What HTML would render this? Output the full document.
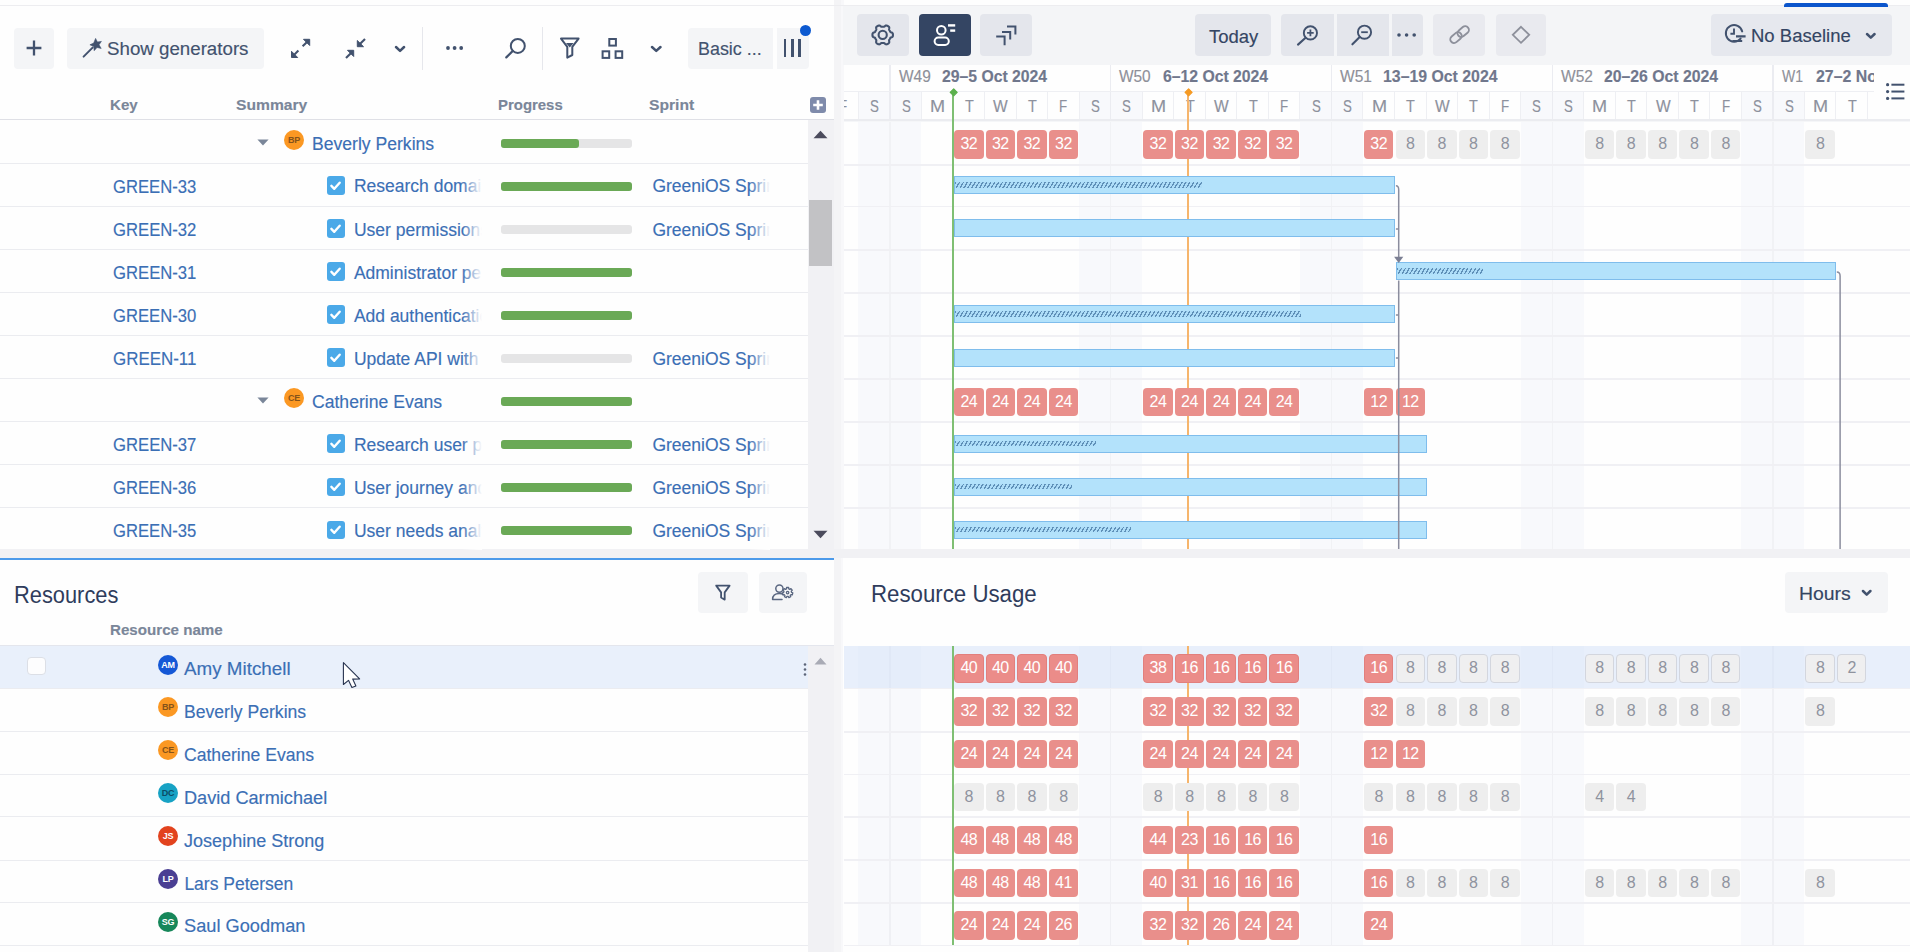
<!DOCTYPE html>
<html lang="en"><head><meta charset="utf-8"><title>Structure Gantt - Resources</title>
<style>
html,body{margin:0;padding:0;background:#fefefe;}
#root{position:absolute;left:0;top:0;width:1910px;height:952px;overflow:hidden;}
body{width:1910px;height:952px;position:relative;overflow:hidden;background:#fefefe;font-family:"Liberation Sans",Arial,sans-serif;}
.b{position:absolute;display:block;box-sizing:border-box;}
.t{position:absolute;white-space:nowrap;transform-origin:0 50%;-webkit-text-stroke:0.15px currentColor;}
.clip{position:absolute;overflow:hidden;}
.cell{position:absolute;box-sizing:border-box;border-radius:4px;text-align:center;font-size:16px;line-height:28.4px;height:28.5px;width:29.6px;letter-spacing:-0.5px;}
.r{background:#e98f8b;color:#fff;}
.g{background:#eeeeee;color:#8f939e;}
.rb{background:#eb8c89;color:#fff;border:1px solid #e27f7d;line-height:26.4px;}
.gb{background:#efeff0;color:#8f939e;border:1px solid #d3d6de;line-height:26.4px;}
.av{position:absolute;width:20px;height:20px;border-radius:50%;text-align:center;font-size:9px;line-height:20px;font-weight:700;letter-spacing:-0.3px;}
</style></head><body><div id="root">

<div class="b" style="left:834.2px;top:0.0px;width:9.4px;height:952.0px;background:#f4f4f6;"></div>
<div class="b" style="left:841.3px;top:0.0px;width:2.3px;height:952.0px;background:#f8f8fa;"></div>
<div class="b" style="left:842.8px;top:5.5px;width:1067.2px;height:59.0px;background:#f4f5f7;"></div>
<div class="b" style="left:0.0px;top:5.0px;width:1910.0px;height:1.0px;background:#ededf0;"></div>
<div class="b" style="left:0.0px;top:549.2px;width:1910.0px;height:9.0px;background:#f1f1f4;"></div>
<div class="b" style="left:0.0px;top:558.0px;width:834.2px;height:2.0px;background:#4c9aea;"></div>
<div class="b" style="left:1784.3px;top:2.5px;width:104.0px;height:4.5px;background:#0b55cc;border-radius:3px 3px 0 0;"></div>
<div class="b" style="left:14.0px;top:27.8px;width:40.3px;height:41.0px;background:#f4f5f7;border-radius:4px;"></div>
<svg class="b" style="left:24.0px;top:38.0px;" width="20" height="20" viewBox="0 0 20 20"><path d="M10 2.6v14.8M2.6 10h14.8" stroke="#42526e" stroke-width="2.3" fill="none"/></svg>
<div class="b" style="left:66.7px;top:27.8px;width:197.5px;height:41.0px;background:#f4f5f7;border-radius:4px;"></div>
<svg class="b" style="left:81.0px;top:36.0px;" width="24" height="24" viewBox="0 0 24 24"><path d="M2.6 20.6L11.6 11.6" stroke="#42526e" stroke-width="2" stroke-linecap="round" fill="none"/><path d="M14.6 2.4l1.8 3.6 4-.6-2.4 3.4 2.2 3.6-4.2-.9-2.8 3.2-.5-4.2-3.8-1.7 3.8-1.7z" fill="#42526e" stroke="#42526e" stroke-width="0.6" stroke-linejoin="round"/></svg>
<div class="t " style="left:107.0px;top:41.2px;font-size:17.5px;line-height:17.5px;color:#42526e;font-weight:400;transform:scaleX(1.0693);">Show generators</div>
<svg class="b" style="left:290.0px;top:37.5px;" width="21" height="21" viewBox="0 0 21 21"><path d="M12.6 8.2L17.55 3.39" stroke="#42526e" stroke-width="2.1" fill="none"/><path d="M19.7 1.3L13.5 1.3L19.7 7.5z" fill="#42526e" stroke="#42526e" stroke-width="1" stroke-linejoin="round"/><path d="M8.4 12.6L3.62 17.38" stroke="#42526e" stroke-width="2.1" fill="none"/><path d="M1.5 19.5L7.7 19.5L1.5 13.3z" fill="#42526e" stroke="#42526e" stroke-width="1" stroke-linejoin="round"/></svg>
<svg class="b" style="left:345.0px;top:37.5px;" width="21" height="21" viewBox="0 0 21 21"><path d="M20 1L14.42 6.58" stroke="#42526e" stroke-width="2.1" fill="none"/><path d="M12.3 8.7L18.5 8.7L12.3 2.499999999999999z" fill="#42526e" stroke="#42526e" stroke-width="1" stroke-linejoin="round"/><path d="M1 20L6.58 14.42" stroke="#42526e" stroke-width="2.1" fill="none"/><path d="M8.7 12.3L2.499999999999999 12.3L8.7 18.5z" fill="#42526e" stroke="#42526e" stroke-width="1" stroke-linejoin="round"/></svg>
<svg class="b" style="left:394.2px;top:45.0px;" width="12.1" height="8.9" viewBox="0 0 12.1 8.9"><path d="M2 2l4.05 3.9000000000000004l4.05 -3.9000000000000004" stroke="#42526e" stroke-width="2.5" fill="none" stroke-linecap="round" stroke-linejoin="round"/></svg>
<div class="b" style="left:422.0px;top:27.0px;width:1.2px;height:42.5px;background:#e6e7ec;"></div>
<svg class="b" style="left:445.1px;top:45.1px;" width="19.2" height="6" viewBox="0 0 19.2 6"><circle cx="3.0" cy="3" r="1.9" fill="#42526e"/><circle cx="9.6" cy="3" r="1.9" fill="#42526e"/><circle cx="16.2" cy="3" r="1.9" fill="#42526e"/></svg>
<svg class="b" style="left:503.0px;top:35.0px;" width="26" height="26" viewBox="0 0 26 26"><circle cx="14.8" cy="10.9" r="7" stroke="#42526e" stroke-width="2" fill="none"/><path d="M9.8 15.9L3.3 22.4" stroke="#42526e" stroke-width="2.2" stroke-linecap="round"/></svg>
<div class="b" style="left:542.0px;top:27.0px;width:1.2px;height:42.5px;background:#e6e7ec;"></div>
<svg class="b" style="left:559.0px;top:36.0px;" width="22" height="24" viewBox="0 0 22 24"><path d="M2 2.6h17.6l-6.3 8.2v8.2l-5 2.6v-10.8z" stroke="#42526e" stroke-width="2" fill="none" stroke-linejoin="round"/><path d="M7 7h7.6l-3.8 4.6z" fill="#42526e"/></svg>
<svg class="b" style="left:600.0px;top:36.0px;" width="24" height="24" viewBox="0 0 24 24"><rect x="9.3" y="3" width="6.6" height="6.6" stroke="#42526e" stroke-width="2" fill="none"/><rect x="2.6" y="15.3" width="6.6" height="6.6" stroke="#42526e" stroke-width="2" fill="none"/><rect x="15.6" y="15.3" width="6.6" height="6.6" stroke="#42526e" stroke-width="2" fill="none"/></svg>
<svg class="b" style="left:649.9px;top:45.0px;" width="12.5" height="8.9" viewBox="0 0 12.5 8.9"><path d="M2 2l4.25 3.9000000000000004l4.25 -3.9000000000000004" stroke="#42526e" stroke-width="2.5" fill="none" stroke-linecap="round" stroke-linejoin="round"/></svg>
<div class="b" style="left:688.4px;top:27.8px;width:84.8px;height:41.0px;background:#f4f5f7;border-radius:4px 0 0 4px;"></div>
<div class="t " style="left:697.9px;top:41.4px;font-size:17.5px;line-height:17.5px;color:#42526e;font-weight:400;transform:scaleX(1.0222);">Basic ...</div>
<div class="b" style="left:777.2px;top:27.8px;width:31.4px;height:41.0px;background:#f4f5f7;border-radius:0 4px 4px 0;"></div>
<div class="b" style="left:783.7px;top:39.0px;width:2.6px;height:17.8px;background:#42526e;"></div>
<div class="b" style="left:791.0px;top:39.0px;width:2.6px;height:17.8px;background:#42526e;"></div>
<div class="b" style="left:798.0px;top:39.0px;width:2.6px;height:17.8px;background:#42526e;"></div>
<div class="b" style="left:800.0px;top:24.5px;width:11.0px;height:11.0px;background:#0c59d0;border-radius:50%;"></div>
<div class="t " style="left:109.7px;top:97.2px;font-size:15.4px;line-height:15.4px;color:#7a8699;font-weight:700;transform:scaleX(0.9802);">Key</div>
<div class="t " style="left:235.8px;top:97.2px;font-size:15.4px;line-height:15.4px;color:#7a8699;font-weight:700;transform:scaleX(1.0160);">Summary</div>
<div class="t " style="left:498.3px;top:97.2px;font-size:15.4px;line-height:15.4px;color:#7a8699;font-weight:700;transform:scaleX(0.9700);">Progress</div>
<div class="t " style="left:649.3px;top:97.2px;font-size:15.4px;line-height:15.4px;color:#7a8699;font-weight:700;transform:scaleX(1.0162);">Sprint</div>
<div class="b" style="left:809.8px;top:97.4px;width:16.0px;height:16.0px;background:#7f8bab;border-radius:3px;"></div>
<svg class="b" style="left:809.8px;top:97.4px;" width="16" height="16" viewBox="0 0 16 16"><path d="M8 3.2v9.6M3.2 8h9.6" stroke="#fff" stroke-width="2.6"/></svg>
<div class="b" style="left:0.0px;top:118.8px;width:834.3px;height:1.6px;background:#dfe0e6;"></div>
<div class="b" style="left:807.5px;top:120.4px;width:26.8px;height:428.8px;background:#f1f1f4;"></div>
<div class="b" style="left:809.2px;top:199.8px;width:23.0px;height:66.0px;background:#c2c2c5;"></div>
<svg class="b" style="left:813.0px;top:130.0px;" width="15" height="9" viewBox="0 0 15 9"><path d="M0.5 8.2L7.5 0.8L14.5 8.2z" fill="#4b4b5c"/></svg>
<svg class="b" style="left:813.0px;top:530.0px;" width="15" height="9" viewBox="0 0 15 9"><path d="M0.5 0.8L7.5 8.2L14.5 0.8z" fill="#4b4b5c"/></svg>
<svg class="b" style="left:256.5px;top:139.2px;" width="12" height="7" viewBox="0 0 12 7"><path d="M0.4 0.4h11.2L6 6.6z" fill="#7a8699"/></svg>
<div class="av" style="left:284.0px;top:129.6px;background:#fb9823;color:#85531a;">BP</div>
<div class="t " style="left:311.5px;top:135.5px;font-size:17.5px;line-height:17.5px;color:#3b6fb5;font-weight:400;transform:scaleX(1.0047);">Beverly Perkins</div>
<div class="b" style="left:501.3px;top:138.7px;width:130.4px;height:9.0px;background:#e5e5e6;border-radius:3px;"></div>
<div class="b" style="left:501.3px;top:138.7px;width:78.2px;height:9.0px;background:#6aa956;border-radius:3px;"></div>
<div class="b" style="left:0.0px;top:163.0px;width:807.5px;height:1.0px;background:#ebecf0;"></div>
<div class="t " style="left:112.8px;top:178.5px;font-size:17.5px;line-height:17.5px;color:#3b6fb5;font-weight:400;transform:scaleX(0.9516);">GREEN-33</div>
<div class="b" style="left:326.7px;top:176.2px;width:18.6px;height:18.6px;background:#4ba9e8;border-radius:3px;"></div>
<svg class="b" style="left:326.4px;top:175.9px;" width="19.2" height="19.2" viewBox="0 0 19.2 19.2"><path d="M5.4 9.9l2.9 2.9l5.4-6.1" stroke="#fff" stroke-width="2.4" fill="none" stroke-linecap="round" stroke-linejoin="round"/></svg>
<div class="clip" style="left:350px;top:164.9px;width:132px;height:41.03px;">
<div class="t" style="left:3.9px;top:13.6px;font-size:17.5px;line-height:17.5px;color:#3b6fb5;">Research domain names</div></div>
<div class="b" style="left:462.0px;top:164.9px;width:20.0px;height:41.0px;background:linear-gradient(to right, rgba(254,254,254,0), rgba(254,254,254,1));"></div>
<div class="clip" style="left:648px;top:164.9px;width:122px;height:41.03px;">
<div class="t" style="left:4.4px;top:13.6px;font-size:17.5px;line-height:17.5px;color:#3b6fb5;">GreeniOS Sprint 1</div></div>
<div class="b" style="left:750.0px;top:164.9px;width:20.0px;height:41.0px;background:linear-gradient(to right, rgba(254,254,254,0), rgba(254,254,254,1));"></div>
<div class="b" style="left:501.3px;top:181.7px;width:130.4px;height:9.0px;background:#e5e5e6;border-radius:3px;"></div>
<div class="b" style="left:501.3px;top:181.7px;width:130.4px;height:9.0px;background:#6aa956;border-radius:3px;"></div>
<div class="b" style="left:0.0px;top:206.0px;width:807.5px;height:1.0px;background:#ebecf0;"></div>
<div class="t " style="left:112.8px;top:221.6px;font-size:17.5px;line-height:17.5px;color:#3b6fb5;font-weight:400;transform:scaleX(0.9528);">GREEN-32</div>
<div class="b" style="left:326.7px;top:219.3px;width:18.6px;height:18.6px;background:#4ba9e8;border-radius:3px;"></div>
<svg class="b" style="left:326.4px;top:219.0px;" width="19.2" height="19.2" viewBox="0 0 19.2 19.2"><path d="M5.4 9.9l2.9 2.9l5.4-6.1" stroke="#fff" stroke-width="2.4" fill="none" stroke-linecap="round" stroke-linejoin="round"/></svg>
<div class="clip" style="left:350px;top:208.0px;width:132px;height:41.03px;">
<div class="t" style="left:3.9px;top:13.6px;font-size:17.5px;line-height:17.5px;color:#3b6fb5;">User permissions</div></div>
<div class="b" style="left:462.0px;top:208.0px;width:20.0px;height:41.0px;background:linear-gradient(to right, rgba(254,254,254,0), rgba(254,254,254,1));"></div>
<div class="clip" style="left:648px;top:208.0px;width:122px;height:41.03px;">
<div class="t" style="left:4.4px;top:13.6px;font-size:17.5px;line-height:17.5px;color:#3b6fb5;">GreeniOS Sprint 1</div></div>
<div class="b" style="left:750.0px;top:208.0px;width:20.0px;height:41.0px;background:linear-gradient(to right, rgba(254,254,254,0), rgba(254,254,254,1));"></div>
<div class="b" style="left:501.3px;top:224.8px;width:130.4px;height:9.0px;background:#e5e5e6;border-radius:3px;"></div>
<div class="b" style="left:0.0px;top:249.0px;width:807.5px;height:1.0px;background:#ebecf0;"></div>
<div class="t " style="left:112.8px;top:264.6px;font-size:17.5px;line-height:17.5px;color:#3b6fb5;font-weight:400;transform:scaleX(0.9528);">GREEN-31</div>
<div class="b" style="left:326.7px;top:262.3px;width:18.6px;height:18.6px;background:#4ba9e8;border-radius:3px;"></div>
<svg class="b" style="left:326.4px;top:262.0px;" width="19.2" height="19.2" viewBox="0 0 19.2 19.2"><path d="M5.4 9.9l2.9 2.9l5.4-6.1" stroke="#fff" stroke-width="2.4" fill="none" stroke-linecap="round" stroke-linejoin="round"/></svg>
<div class="clip" style="left:350px;top:251.0px;width:132px;height:41.03px;">
<div class="t" style="left:3.9px;top:13.6px;font-size:17.5px;line-height:17.5px;color:#3b6fb5;">Administrator permissions</div></div>
<div class="b" style="left:462.0px;top:251.0px;width:20.0px;height:41.0px;background:linear-gradient(to right, rgba(254,254,254,0), rgba(254,254,254,1));"></div>
<div class="b" style="left:501.3px;top:267.8px;width:130.4px;height:9.0px;background:#e5e5e6;border-radius:3px;"></div>
<div class="b" style="left:501.3px;top:267.8px;width:130.4px;height:9.0px;background:#6aa956;border-radius:3px;"></div>
<div class="b" style="left:0.0px;top:292.0px;width:807.5px;height:1.0px;background:#ebecf0;"></div>
<div class="t " style="left:112.8px;top:307.6px;font-size:17.5px;line-height:17.5px;color:#3b6fb5;font-weight:400;transform:scaleX(0.9503);">GREEN-30</div>
<div class="b" style="left:326.7px;top:305.3px;width:18.6px;height:18.6px;background:#4ba9e8;border-radius:3px;"></div>
<svg class="b" style="left:326.4px;top:305.0px;" width="19.2" height="19.2" viewBox="0 0 19.2 19.2"><path d="M5.4 9.9l2.9 2.9l5.4-6.1" stroke="#fff" stroke-width="2.4" fill="none" stroke-linecap="round" stroke-linejoin="round"/></svg>
<div class="clip" style="left:350px;top:294.0px;width:132px;height:41.03px;">
<div class="t" style="left:3.9px;top:13.6px;font-size:17.5px;line-height:17.5px;color:#3b6fb5;">Add authentication</div></div>
<div class="b" style="left:462.0px;top:294.0px;width:20.0px;height:41.0px;background:linear-gradient(to right, rgba(254,254,254,0), rgba(254,254,254,1));"></div>
<div class="b" style="left:501.3px;top:310.8px;width:130.4px;height:9.0px;background:#e5e5e6;border-radius:3px;"></div>
<div class="b" style="left:501.3px;top:310.8px;width:130.4px;height:9.0px;background:#6aa956;border-radius:3px;"></div>
<div class="b" style="left:0.0px;top:335.0px;width:807.5px;height:1.0px;background:#ebecf0;"></div>
<div class="t " style="left:112.8px;top:350.6px;font-size:17.5px;line-height:17.5px;color:#3b6fb5;font-weight:400;transform:scaleX(0.9676);">GREEN-11</div>
<div class="b" style="left:326.7px;top:348.4px;width:18.6px;height:18.6px;background:#4ba9e8;border-radius:3px;"></div>
<svg class="b" style="left:326.4px;top:348.1px;" width="19.2" height="19.2" viewBox="0 0 19.2 19.2"><path d="M5.4 9.9l2.9 2.9l5.4-6.1" stroke="#fff" stroke-width="2.4" fill="none" stroke-linecap="round" stroke-linejoin="round"/></svg>
<div class="clip" style="left:350px;top:337.1px;width:132px;height:41.03px;">
<div class="t" style="left:3.9px;top:13.6px;font-size:17.5px;line-height:17.5px;color:#3b6fb5;">Update API with new fields</div></div>
<div class="b" style="left:462.0px;top:337.1px;width:20.0px;height:41.0px;background:linear-gradient(to right, rgba(254,254,254,0), rgba(254,254,254,1));"></div>
<div class="clip" style="left:648px;top:337.1px;width:122px;height:41.03px;">
<div class="t" style="left:4.4px;top:13.6px;font-size:17.5px;line-height:17.5px;color:#3b6fb5;">GreeniOS Sprint 1</div></div>
<div class="b" style="left:750.0px;top:337.1px;width:20.0px;height:41.0px;background:linear-gradient(to right, rgba(254,254,254,0), rgba(254,254,254,1));"></div>
<div class="b" style="left:501.3px;top:353.9px;width:130.4px;height:9.0px;background:#e5e5e6;border-radius:3px;"></div>
<div class="b" style="left:0.0px;top:378.0px;width:807.5px;height:1.0px;background:#ebecf0;"></div>
<svg class="b" style="left:256.5px;top:397.4px;" width="12" height="7" viewBox="0 0 12 7"><path d="M0.4 0.4h11.2L6 6.6z" fill="#7a8699"/></svg>
<div class="av" style="left:284.0px;top:387.8px;background:#fb9823;color:#85531a;">CE</div>
<div class="t " style="left:312.0px;top:393.7px;font-size:17.5px;line-height:17.5px;color:#3b6fb5;font-weight:400;transform:scaleX(1.0050);">Catherine Evans</div>
<div class="b" style="left:501.3px;top:396.9px;width:130.4px;height:9.0px;background:#e5e5e6;border-radius:3px;"></div>
<div class="b" style="left:501.3px;top:396.9px;width:130.4px;height:9.0px;background:#6aa956;border-radius:3px;"></div>
<div class="b" style="left:0.0px;top:421.0px;width:807.5px;height:1.0px;background:#ebecf0;"></div>
<div class="t " style="left:112.8px;top:436.7px;font-size:17.5px;line-height:17.5px;color:#3b6fb5;font-weight:400;transform:scaleX(0.9528);">GREEN-37</div>
<div class="b" style="left:326.7px;top:434.4px;width:18.6px;height:18.6px;background:#4ba9e8;border-radius:3px;"></div>
<svg class="b" style="left:326.4px;top:434.1px;" width="19.2" height="19.2" viewBox="0 0 19.2 19.2"><path d="M5.4 9.9l2.9 2.9l5.4-6.1" stroke="#fff" stroke-width="2.4" fill="none" stroke-linecap="round" stroke-linejoin="round"/></svg>
<div class="clip" style="left:350px;top:423.1px;width:132px;height:41.03px;">
<div class="t" style="left:3.9px;top:13.6px;font-size:17.5px;line-height:17.5px;color:#3b6fb5;">Research user personas</div></div>
<div class="b" style="left:462.0px;top:423.1px;width:20.0px;height:41.0px;background:linear-gradient(to right, rgba(254,254,254,0), rgba(254,254,254,1));"></div>
<div class="clip" style="left:648px;top:423.1px;width:122px;height:41.03px;">
<div class="t" style="left:4.4px;top:13.6px;font-size:17.5px;line-height:17.5px;color:#3b6fb5;">GreeniOS Sprint 1</div></div>
<div class="b" style="left:750.0px;top:423.1px;width:20.0px;height:41.0px;background:linear-gradient(to right, rgba(254,254,254,0), rgba(254,254,254,1));"></div>
<div class="b" style="left:501.3px;top:439.9px;width:130.4px;height:9.0px;background:#e5e5e6;border-radius:3px;"></div>
<div class="b" style="left:501.3px;top:439.9px;width:130.4px;height:9.0px;background:#6aa956;border-radius:3px;"></div>
<div class="b" style="left:0.0px;top:464.0px;width:807.5px;height:1.0px;background:#ebecf0;"></div>
<div class="t " style="left:112.8px;top:479.7px;font-size:17.5px;line-height:17.5px;color:#3b6fb5;font-weight:400;transform:scaleX(0.9516);">GREEN-36</div>
<div class="b" style="left:326.7px;top:477.5px;width:18.6px;height:18.6px;background:#4ba9e8;border-radius:3px;"></div>
<svg class="b" style="left:326.4px;top:477.2px;" width="19.2" height="19.2" viewBox="0 0 19.2 19.2"><path d="M5.4 9.9l2.9 2.9l5.4-6.1" stroke="#fff" stroke-width="2.4" fill="none" stroke-linecap="round" stroke-linejoin="round"/></svg>
<div class="clip" style="left:350px;top:466.1px;width:132px;height:41.03px;">
<div class="t" style="left:3.9px;top:13.6px;font-size:17.5px;line-height:17.5px;color:#3b6fb5;">User journey and flows</div></div>
<div class="b" style="left:462.0px;top:466.1px;width:20.0px;height:41.0px;background:linear-gradient(to right, rgba(254,254,254,0), rgba(254,254,254,1));"></div>
<div class="clip" style="left:648px;top:466.1px;width:122px;height:41.03px;">
<div class="t" style="left:4.4px;top:13.6px;font-size:17.5px;line-height:17.5px;color:#3b6fb5;">GreeniOS Sprint 1</div></div>
<div class="b" style="left:750.0px;top:466.1px;width:20.0px;height:41.0px;background:linear-gradient(to right, rgba(254,254,254,0), rgba(254,254,254,1));"></div>
<div class="b" style="left:501.3px;top:483.0px;width:130.4px;height:9.0px;background:#e5e5e6;border-radius:3px;"></div>
<div class="b" style="left:501.3px;top:483.0px;width:130.4px;height:9.0px;background:#6aa956;border-radius:3px;"></div>
<div class="b" style="left:0.0px;top:507.0px;width:807.5px;height:1.0px;background:#ebecf0;"></div>
<div class="t " style="left:112.8px;top:522.8px;font-size:17.5px;line-height:17.5px;color:#3b6fb5;font-weight:400;transform:scaleX(0.9503);">GREEN-35</div>
<div class="b" style="left:326.7px;top:520.5px;width:18.6px;height:18.6px;background:#4ba9e8;border-radius:3px;"></div>
<svg class="b" style="left:326.4px;top:520.2px;" width="19.2" height="19.2" viewBox="0 0 19.2 19.2"><path d="M5.4 9.9l2.9 2.9l5.4-6.1" stroke="#fff" stroke-width="2.4" fill="none" stroke-linecap="round" stroke-linejoin="round"/></svg>
<div class="clip" style="left:350px;top:509.2px;width:132px;height:41.03px;">
<div class="t" style="left:3.9px;top:13.6px;font-size:17.5px;line-height:17.5px;color:#3b6fb5;">User needs analysis</div></div>
<div class="b" style="left:462.0px;top:509.2px;width:20.0px;height:41.0px;background:linear-gradient(to right, rgba(254,254,254,0), rgba(254,254,254,1));"></div>
<div class="clip" style="left:648px;top:509.2px;width:122px;height:41.03px;">
<div class="t" style="left:4.4px;top:13.6px;font-size:17.5px;line-height:17.5px;color:#3b6fb5;">GreeniOS Sprint 1</div></div>
<div class="b" style="left:750.0px;top:509.2px;width:20.0px;height:41.0px;background:linear-gradient(to right, rgba(254,254,254,0), rgba(254,254,254,1));"></div>
<div class="b" style="left:501.3px;top:526.0px;width:130.4px;height:9.0px;background:#e5e5e6;border-radius:3px;"></div>
<div class="b" style="left:501.3px;top:526.0px;width:130.4px;height:9.0px;background:#6aa956;border-radius:3px;"></div>
<div class="b" style="left:857.0px;top:14.2px;width:51.7px;height:41.5px;background:#e4e6ec;border-radius:4px;"></div>
<svg class="b" style="left:870.0px;top:22.0px;" width="26" height="26" viewBox="0 0 26 26"><path d="M12.70 4.75L13.06 4.75L13.41 4.76L13.77 4.75L14.15 4.69L14.57 4.46L15.08 4.01L15.63 3.60L16.14 3.45L16.60 3.49L17.02 3.63L17.43 3.81L17.82 4.02L18.21 4.26L18.57 4.52L18.90 4.82L19.17 5.19L19.29 5.71L19.21 6.39L19.07 7.06L19.09 7.54L19.22 7.90L19.39 8.21L19.58 8.52L19.76 8.82L19.93 9.13L20.10 9.45L20.29 9.76L20.54 10.05L20.95 10.30L21.59 10.52L22.22 10.79L22.61 11.15L22.80 11.57L22.89 12.01L22.94 12.45L22.95 12.90L22.94 13.35L22.89 13.79L22.80 14.23L22.61 14.65L22.22 15.01L21.59 15.28L20.95 15.50L20.54 15.75L20.29 16.04L20.10 16.35L19.93 16.67L19.76 16.97L19.58 17.28L19.39 17.59L19.22 17.90L19.09 18.26L19.07 18.74L19.21 19.41L19.29 20.09L19.17 20.61L18.90 20.98L18.57 21.28L18.21 21.54L17.83 21.78L17.43 21.99L17.02 22.17L16.60 22.31L16.14 22.35L15.63 22.20L15.08 21.79L14.57 21.34L14.15 21.11L13.77 21.05L13.41 21.04L13.06 21.05L12.70 21.05L12.34 21.05L11.99 21.04L11.63 21.05L11.25 21.11L10.83 21.34L10.32 21.79L9.77 22.20L9.26 22.35L8.80 22.31L8.38 22.17L7.97 21.99L7.57 21.78L7.19 21.54L6.83 21.28L6.50 20.98L6.23 20.61L6.11 20.09L6.19 19.41L6.33 18.74L6.31 18.26L6.18 17.90L6.01 17.59L5.82 17.28L5.64 16.98L5.47 16.67L5.30 16.35L5.11 16.04L4.86 15.75L4.45 15.50L3.81 15.28L3.18 15.01L2.79 14.65L2.60 14.23L2.51 13.79L2.46 13.35L2.45 12.90L2.46 12.45L2.51 12.01L2.60 11.57L2.79 11.15L3.18 10.79L3.81 10.52L4.45 10.30L4.86 10.05L5.11 9.76L5.30 9.45L5.47 9.13L5.64 8.83L5.82 8.52L6.01 8.21L6.18 7.90L6.31 7.54L6.33 7.06L6.19 6.39L6.11 5.71L6.23 5.19L6.50 4.82L6.83 4.52L7.19 4.26L7.58 4.02L7.97 3.81L8.38 3.63L8.80 3.49L9.26 3.45L9.77 3.60L10.32 4.01L10.83 4.46L11.25 4.69L11.63 4.75L11.99 4.76L12.34 4.75z" stroke="#42526e" stroke-width="2.1" fill="none" stroke-linejoin="round"/><circle cx="12.7" cy="12.9" r="4.1" stroke="#42526e" stroke-width="2.1" fill="none"/></svg>
<div class="b" style="left:918.6px;top:14.2px;width:52.4px;height:41.5px;background:#344563;border-radius:4px;"></div>
<svg class="b" style="left:930.0px;top:20.0px;" width="30" height="30" viewBox="0 0 30 30"><circle cx="11.3" cy="10.2" r="4.3" stroke="#fff" stroke-width="2" fill="none"/><rect x="4.6" y="17.6" width="14.2" height="7.4" rx="3.7" stroke="#fff" stroke-width="2" fill="none"/><rect x="18" y="4.2" width="7.2" height="2.4" fill="#fff"/><rect x="20.2" y="9.4" width="5" height="2.4" fill="#fff"/></svg>
<div class="b" style="left:980.4px;top:14.2px;width:52.0px;height:41.5px;background:#e4e6ec;border-radius:4px;"></div>
<svg class="b" style="left:992.0px;top:20.0px;" width="30" height="30" viewBox="0 0 30 30"><path d="M15 6.5h8.4v8" stroke="#42526e" stroke-width="2" fill="none"/><path d="M10 12h8.2v7.6" stroke="#42526e" stroke-width="2" fill="none"/><path d="M4.2 16.6h8.4v8.6" stroke="#42526e" stroke-width="2" fill="none"/></svg>
<div class="b" style="left:1195.2px;top:14.2px;width:76.3px;height:41.5px;background:#e4e6ec;border-radius:4px;"></div>
<div class="t " style="left:1209.0px;top:28.6px;font-size:17.5px;line-height:17.5px;color:#344563;font-weight:400;transform:scaleX(1.0566);">Today</div>
<div class="b" style="left:1281.4px;top:14.2px;width:52.6px;height:41.5px;background:#e4e6ec;border-radius:4px 0 0 4px;"></div>
<svg class="b" style="left:1294.0px;top:22.0px;" width="28" height="26" viewBox="0 0 28 26"><circle cx="16.4" cy="10.9" r="6.6" stroke="#42526e" stroke-width="1.9" fill="none"/><path d="M11.6 15.8L4 22.6" stroke="#42526e" stroke-width="2.1" stroke-linecap="round"/><path d="M16.4 7.6v6.6M13.1 10.9h6.6" stroke="#42526e" stroke-width="1.8"/></svg>
<div class="b" style="left:1336.6px;top:14.2px;width:52.6px;height:41.5px;background:#e4e6ec;"></div>
<svg class="b" style="left:1348.0px;top:22.0px;" width="28" height="26" viewBox="0 0 28 26"><circle cx="16.5" cy="10.2" r="6.6" stroke="#42526e" stroke-width="1.9" fill="none"/><path d="M11.7 15.1L4.4 22.3" stroke="#42526e" stroke-width="2.1" stroke-linecap="round"/><path d="M13.2 10.2h6.6" stroke="#42526e" stroke-width="1.8"/></svg>
<div class="b" style="left:1391.7px;top:14.2px;width:31.5px;height:41.5px;background:#e4e6ec;border-radius:0 4px 4px 0;"></div>
<svg class="b" style="left:1396.4px;top:31.7px;" width="21.2" height="6" viewBox="0 0 21.2 6"><circle cx="3.0" cy="3" r="1.8" fill="#42526e"/><circle cx="10.6" cy="3" r="1.8" fill="#42526e"/><circle cx="18.2" cy="3" r="1.8" fill="#42526e"/></svg>
<div class="b" style="left:1433.0px;top:14.2px;width:51.7px;height:41.5px;background:#e9eaef;border-radius:4px;"></div>
<svg class="b" style="left:1447.0px;top:22.0px;" width="26" height="26" viewBox="0 0 26 26"><g transform="rotate(-40 12.6 12.6)" stroke="#8d909b" stroke-width="1.9" fill="none"><rect x="1.6" y="8.9" width="12.6" height="7.4" rx="3.7"/><rect x="11" y="8.9" width="12.6" height="7.4" rx="3.7"/></g></svg>
<div class="b" style="left:1495.5px;top:14.2px;width:50.5px;height:41.5px;background:#e9eaef;border-radius:4px;"></div>
<svg class="b" style="left:1510.0px;top:24.0px;" width="22" height="22" viewBox="0 0 22 22"><path d="M11 2.8L19.2 10.8L11 18.8L2.8 10.8z" stroke="#8d909b" stroke-width="1.8" fill="none"/></svg>
<div class="b" style="left:1710.8px;top:14.0px;width:181.6px;height:41.5px;background:#e6e8ee;border-radius:4px;"></div>
<svg class="b" style="left:1723.0px;top:22.0px;" width="26" height="24" viewBox="0 0 26 24"><path d="M17.6 16.6A8.3 8.3 0 1 1 19.2 9.4" stroke="#42526e" stroke-width="2" fill="none" stroke-linecap="round"/><path d="M11 6.4v5.4h-3.6" stroke="#42526e" stroke-width="1.9" fill="none"/><path d="M13 14.4h9.6M9.6 19h9.6" stroke="#42526e" stroke-width="2.2"/></svg>
<div class="t " style="left:1751.2px;top:27.8px;font-size:17.5px;line-height:17.5px;color:#344563;font-weight:400;transform:scaleX(1.0574);">No Baseline</div>
<svg class="b" style="left:1865.1px;top:32.0px;" width="11.6" height="8.7" viewBox="0 0 11.6 8.7"><path d="M2 2l3.8 3.7l3.8 -3.7" stroke="#42526e" stroke-width="2.5" fill="none" stroke-linecap="round" stroke-linejoin="round"/></svg>
<div class="clip" style="left:843.5px;top:64.5px;width:1066.5px;height:484.7px;background:#fefefe;">
<div class="b" style="left:14.9px;top:27.5px;width:31.5px;height:460.0px;background:#f8f9fc;"></div>
<div class="b" style="left:46.4px;top:27.5px;width:31.5px;height:460.0px;background:#f8f9fc;"></div>
<div class="b" style="left:235.6px;top:27.5px;width:31.5px;height:460.0px;background:#f8f9fc;"></div>
<div class="b" style="left:267.1px;top:27.5px;width:31.5px;height:460.0px;background:#f8f9fc;"></div>
<div class="b" style="left:456.4px;top:27.5px;width:31.5px;height:460.0px;background:#f8f9fc;"></div>
<div class="b" style="left:487.9px;top:27.5px;width:31.5px;height:460.0px;background:#f8f9fc;"></div>
<div class="b" style="left:677.1px;top:27.5px;width:31.5px;height:460.0px;background:#f8f9fc;"></div>
<div class="b" style="left:708.6px;top:27.5px;width:31.5px;height:460.0px;background:#f8f9fc;"></div>
<div class="b" style="left:897.8px;top:27.5px;width:31.5px;height:460.0px;background:#f8f9fc;"></div>
<div class="b" style="left:929.4px;top:27.5px;width:31.5px;height:460.0px;background:#f8f9fc;"></div>
<div class="b" style="left:-17.2px;top:27.5px;width:1.1px;height:28.0px;background:#eeeff3;"></div>
<div class="t " style="left:-4.9px;top:33.1px;font-size:16.5px;line-height:16.5px;color:#8d919d;font-weight:400;transform:scaleX(0.8101);">F</div>
<div class="b" style="left:14.4px;top:27.5px;width:1.1px;height:28.0px;background:#eeeff3;"></div>
<div class="t " style="left:26.6px;top:33.1px;font-size:16.5px;line-height:16.5px;color:#8d919d;font-weight:400;transform:scaleX(0.8029);">S</div>
<div class="b" style="left:45.8px;top:0.0px;width:1.3px;height:56.0px;background:#ebecf1;"></div>
<div class="b" style="left:45.8px;top:55.5px;width:1.3px;height:432.0px;background:#f1f2f5;"></div>
<div class="t " style="left:58.1px;top:33.1px;font-size:16.5px;line-height:16.5px;color:#8d919d;font-weight:400;transform:scaleX(0.8029);">S</div>
<div class="b" style="left:77.4px;top:27.5px;width:1.1px;height:28.0px;background:#eeeff3;"></div>
<div class="t " style="left:86.6px;top:33.1px;font-size:16.5px;line-height:16.5px;color:#8d919d;font-weight:400;transform:scaleX(1.0966);">M</div>
<div class="b" style="left:109.0px;top:27.5px;width:1.1px;height:28.0px;background:#eeeff3;"></div>
<div class="t " style="left:121.3px;top:33.1px;font-size:16.5px;line-height:16.5px;color:#8d919d;font-weight:400;transform:scaleX(0.8738);">T</div>
<div class="b" style="left:140.5px;top:27.5px;width:1.1px;height:28.0px;background:#eeeff3;"></div>
<div class="t " style="left:149.8px;top:33.1px;font-size:16.5px;line-height:16.5px;color:#8d919d;font-weight:400;transform:scaleX(0.9438);">W</div>
<div class="b" style="left:172.0px;top:27.5px;width:1.1px;height:28.0px;background:#eeeff3;"></div>
<div class="t " style="left:184.3px;top:33.1px;font-size:16.5px;line-height:16.5px;color:#8d919d;font-weight:400;transform:scaleX(0.8738);">T</div>
<div class="b" style="left:203.6px;top:27.5px;width:1.1px;height:28.0px;background:#eeeff3;"></div>
<div class="t " style="left:215.9px;top:33.1px;font-size:16.5px;line-height:16.5px;color:#8d919d;font-weight:400;transform:scaleX(0.8101);">F</div>
<div class="b" style="left:235.1px;top:27.5px;width:1.1px;height:28.0px;background:#eeeff3;"></div>
<div class="t " style="left:247.3px;top:33.1px;font-size:16.5px;line-height:16.5px;color:#8d919d;font-weight:400;transform:scaleX(0.8029);">S</div>
<div class="b" style="left:266.5px;top:0.0px;width:1.3px;height:56.0px;background:#ebecf1;"></div>
<div class="b" style="left:266.5px;top:55.5px;width:1.3px;height:432.0px;background:#f1f2f5;"></div>
<div class="t " style="left:278.9px;top:33.1px;font-size:16.5px;line-height:16.5px;color:#8d919d;font-weight:400;transform:scaleX(0.8029);">S</div>
<div class="b" style="left:298.2px;top:27.5px;width:1.1px;height:28.0px;background:#eeeff3;"></div>
<div class="t " style="left:307.3px;top:33.1px;font-size:16.5px;line-height:16.5px;color:#8d919d;font-weight:400;transform:scaleX(1.0966);">M</div>
<div class="b" style="left:329.7px;top:27.5px;width:1.1px;height:28.0px;background:#eeeff3;"></div>
<div class="t " style="left:342.0px;top:33.1px;font-size:16.5px;line-height:16.5px;color:#8d919d;font-weight:400;transform:scaleX(0.8738);">T</div>
<div class="b" style="left:361.2px;top:27.5px;width:1.1px;height:28.0px;background:#eeeff3;"></div>
<div class="t " style="left:370.5px;top:33.1px;font-size:16.5px;line-height:16.5px;color:#8d919d;font-weight:400;transform:scaleX(0.9438);">W</div>
<div class="b" style="left:392.8px;top:27.5px;width:1.1px;height:28.0px;background:#eeeff3;"></div>
<div class="t " style="left:405.1px;top:33.1px;font-size:16.5px;line-height:16.5px;color:#8d919d;font-weight:400;transform:scaleX(0.8738);">T</div>
<div class="b" style="left:424.3px;top:27.5px;width:1.1px;height:28.0px;background:#eeeff3;"></div>
<div class="t " style="left:436.6px;top:33.1px;font-size:16.5px;line-height:16.5px;color:#8d919d;font-weight:400;transform:scaleX(0.8101);">F</div>
<div class="b" style="left:455.9px;top:27.5px;width:1.1px;height:28.0px;background:#eeeff3;"></div>
<div class="t " style="left:468.1px;top:33.1px;font-size:16.5px;line-height:16.5px;color:#8d919d;font-weight:400;transform:scaleX(0.8029);">S</div>
<div class="b" style="left:487.3px;top:0.0px;width:1.3px;height:56.0px;background:#ebecf1;"></div>
<div class="b" style="left:487.3px;top:55.5px;width:1.3px;height:432.0px;background:#f1f2f5;"></div>
<div class="t " style="left:499.6px;top:33.1px;font-size:16.5px;line-height:16.5px;color:#8d919d;font-weight:400;transform:scaleX(0.8029);">S</div>
<div class="b" style="left:518.9px;top:27.5px;width:1.1px;height:28.0px;background:#eeeff3;"></div>
<div class="t " style="left:528.1px;top:33.1px;font-size:16.5px;line-height:16.5px;color:#8d919d;font-weight:400;transform:scaleX(1.0966);">M</div>
<div class="b" style="left:550.5px;top:27.5px;width:1.1px;height:28.0px;background:#eeeff3;"></div>
<div class="t " style="left:562.8px;top:33.1px;font-size:16.5px;line-height:16.5px;color:#8d919d;font-weight:400;transform:scaleX(0.8738);">T</div>
<div class="b" style="left:582.0px;top:27.5px;width:1.1px;height:28.0px;background:#eeeff3;"></div>
<div class="t " style="left:591.3px;top:33.1px;font-size:16.5px;line-height:16.5px;color:#8d919d;font-weight:400;transform:scaleX(0.9438);">W</div>
<div class="b" style="left:613.5px;top:27.5px;width:1.1px;height:28.0px;background:#eeeff3;"></div>
<div class="t " style="left:625.8px;top:33.1px;font-size:16.5px;line-height:16.5px;color:#8d919d;font-weight:400;transform:scaleX(0.8738);">T</div>
<div class="b" style="left:645.1px;top:27.5px;width:1.1px;height:28.0px;background:#eeeff3;"></div>
<div class="t " style="left:657.3px;top:33.1px;font-size:16.5px;line-height:16.5px;color:#8d919d;font-weight:400;transform:scaleX(0.8101);">F</div>
<div class="b" style="left:676.6px;top:27.5px;width:1.1px;height:28.0px;background:#eeeff3;"></div>
<div class="t " style="left:688.8px;top:33.1px;font-size:16.5px;line-height:16.5px;color:#8d919d;font-weight:400;transform:scaleX(0.8029);">S</div>
<div class="b" style="left:708.0px;top:0.0px;width:1.3px;height:56.0px;background:#ebecf1;"></div>
<div class="b" style="left:708.0px;top:55.5px;width:1.3px;height:432.0px;background:#f1f2f5;"></div>
<div class="t " style="left:720.4px;top:33.1px;font-size:16.5px;line-height:16.5px;color:#8d919d;font-weight:400;transform:scaleX(0.8029);">S</div>
<div class="b" style="left:739.7px;top:27.5px;width:1.1px;height:28.0px;background:#eeeff3;"></div>
<div class="t " style="left:748.8px;top:33.1px;font-size:16.5px;line-height:16.5px;color:#8d919d;font-weight:400;transform:scaleX(1.0966);">M</div>
<div class="b" style="left:771.2px;top:27.5px;width:1.1px;height:28.0px;background:#eeeff3;"></div>
<div class="t " style="left:783.5px;top:33.1px;font-size:16.5px;line-height:16.5px;color:#8d919d;font-weight:400;transform:scaleX(0.8738);">T</div>
<div class="b" style="left:802.7px;top:27.5px;width:1.1px;height:28.0px;background:#eeeff3;"></div>
<div class="t " style="left:812.0px;top:33.1px;font-size:16.5px;line-height:16.5px;color:#8d919d;font-weight:400;transform:scaleX(0.9438);">W</div>
<div class="b" style="left:834.3px;top:27.5px;width:1.1px;height:28.0px;background:#eeeff3;"></div>
<div class="t " style="left:846.6px;top:33.1px;font-size:16.5px;line-height:16.5px;color:#8d919d;font-weight:400;transform:scaleX(0.8738);">T</div>
<div class="b" style="left:865.8px;top:27.5px;width:1.1px;height:28.0px;background:#eeeff3;"></div>
<div class="t " style="left:878.1px;top:33.1px;font-size:16.5px;line-height:16.5px;color:#8d919d;font-weight:400;transform:scaleX(0.8101);">F</div>
<div class="b" style="left:897.3px;top:27.5px;width:1.1px;height:28.0px;background:#eeeff3;"></div>
<div class="t " style="left:909.6px;top:33.1px;font-size:16.5px;line-height:16.5px;color:#8d919d;font-weight:400;transform:scaleX(0.8029);">S</div>
<div class="b" style="left:928.8px;top:0.0px;width:1.3px;height:56.0px;background:#ebecf1;"></div>
<div class="b" style="left:928.8px;top:55.5px;width:1.3px;height:432.0px;background:#f1f2f5;"></div>
<div class="t " style="left:941.1px;top:33.1px;font-size:16.5px;line-height:16.5px;color:#8d919d;font-weight:400;transform:scaleX(0.8029);">S</div>
<div class="b" style="left:960.4px;top:27.5px;width:1.1px;height:28.0px;background:#eeeff3;"></div>
<div class="t " style="left:969.6px;top:33.1px;font-size:16.5px;line-height:16.5px;color:#8d919d;font-weight:400;transform:scaleX(1.0966);">M</div>
<div class="b" style="left:991.9px;top:27.5px;width:1.1px;height:28.0px;background:#eeeff3;"></div>
<div class="t " style="left:1004.2px;top:33.1px;font-size:16.5px;line-height:16.5px;color:#8d919d;font-weight:400;transform:scaleX(0.8738);">T</div>
<div class="b" style="left:1023.5px;top:27.5px;width:1.1px;height:28.0px;background:#eeeff3;"></div>
<div class="t " style="left:1032.8px;top:33.1px;font-size:16.5px;line-height:16.5px;color:#8d919d;font-weight:400;transform:scaleX(0.9438);">W</div>
<div class="b" style="left:1055.0px;top:27.5px;width:1.1px;height:28.0px;background:#eeeff3;"></div>
<div class="t " style="left:1067.3px;top:33.1px;font-size:16.5px;line-height:16.5px;color:#8d919d;font-weight:400;transform:scaleX(0.8738);">T</div>
<div class="b" style="left:1086.6px;top:27.5px;width:1.1px;height:28.0px;background:#eeeff3;"></div>
<div class="t " style="left:1098.8px;top:33.1px;font-size:16.5px;line-height:16.5px;color:#8d919d;font-weight:400;transform:scaleX(0.8101);">F</div>
<div class="b" style="left:0.0px;top:26.8px;width:1030.0px;height:1.2px;background:#eeeff3;"></div>
<div class="b" style="left:0.0px;top:54.5px;width:1066.5px;height:2.0px;background:#ebecf0;"></div>
<div class="b" style="left:0.0px;top:56.5px;width:1066.5px;height:1.0px;background:#f5f6f8;"></div>
<div class="t " style="left:55.2px;top:4.8px;font-size:16px;line-height:16px;color:#8e9099;font-weight:400;transform:scaleX(0.9657);">W49</div>
<div class="t " style="left:98.3px;top:4.8px;font-size:16px;line-height:16px;color:#70778c;font-weight:700;transform:scaleX(0.9840);">29–5 Oct 2024</div>
<div class="t " style="left:275.9px;top:4.8px;font-size:16px;line-height:16px;color:#8e9099;font-weight:400;transform:scaleX(0.9627);">W50</div>
<div class="t " style="left:319.0px;top:4.8px;font-size:16px;line-height:16px;color:#70778c;font-weight:700;transform:scaleX(0.9849);">6–12 Oct 2024</div>
<div class="t " style="left:496.7px;top:4.8px;font-size:16px;line-height:16px;color:#8e9099;font-weight:400;transform:scaleX(0.9688);">W51</div>
<div class="t " style="left:539.3px;top:4.8px;font-size:16px;line-height:16px;color:#70778c;font-weight:700;transform:scaleX(0.9904);">13–19 Oct 2024</div>
<div class="t " style="left:717.4px;top:4.8px;font-size:16px;line-height:16px;color:#8e9099;font-weight:400;transform:scaleX(0.9688);">W52</div>
<div class="t " style="left:760.5px;top:4.8px;font-size:16px;line-height:16px;color:#70778c;font-weight:700;transform:scaleX(0.9861);">20–26 Oct 2024</div>
<div class="t " style="left:938.2px;top:4.8px;font-size:16px;line-height:16px;color:#8e9099;font-weight:400;transform:scaleX(0.8745);">W1</div>
<div class="t " style="left:972.4px;top:4.8px;font-size:16px;line-height:16px;color:#70778c;font-weight:700;transform:scaleX(0.9936);">27–2 Nov 2024</div>
<div class="b" style="left:0.0px;top:99.4px;width:1066.5px;height:1.8px;background:#f0f0f4;"></div>
<div class="b" style="left:0.0px;top:141.2px;width:1066.5px;height:1.8px;background:#f0f0f4;"></div>
<div class="b" style="left:0.0px;top:184.3px;width:1066.5px;height:1.8px;background:#f0f0f4;"></div>
<div class="b" style="left:0.0px;top:227.3px;width:1066.5px;height:1.8px;background:#f0f0f4;"></div>
<div class="b" style="left:0.0px;top:270.3px;width:1066.5px;height:1.8px;background:#f0f0f4;"></div>
<div class="b" style="left:0.0px;top:313.4px;width:1066.5px;height:1.8px;background:#f0f0f4;"></div>
<div class="b" style="left:0.0px;top:356.4px;width:1066.5px;height:1.8px;background:#f0f0f4;"></div>
<div class="b" style="left:0.0px;top:399.4px;width:1066.5px;height:1.8px;background:#f0f0f4;"></div>
<div class="b" style="left:0.0px;top:442.4px;width:1066.5px;height:1.8px;background:#f0f0f4;"></div>
<div class="b" style="left:108.5px;top:27.5px;width:2.0px;height:460.0px;background:#7fbf73;"></div>
<div class="b" style="left:343.6px;top:27.5px;width:2.0px;height:460.0px;background:#f6b56c;"></div>
<div class="cell r" style="left:110.5px;top:65.7px;">32</div>
<div class="cell r" style="left:142.0px;top:65.7px;">32</div>
<div class="cell r" style="left:173.5px;top:65.7px;">32</div>
<div class="cell r" style="left:205.1px;top:65.7px;">32</div>
<div class="cell r" style="left:299.7px;top:65.7px;">32</div>
<div class="cell r" style="left:331.2px;top:65.7px;">32</div>
<div class="cell r" style="left:362.8px;top:65.7px;">32</div>
<div class="cell r" style="left:394.3px;top:65.7px;">32</div>
<div class="cell r" style="left:425.8px;top:65.7px;">32</div>
<div class="cell r" style="left:520.4px;top:65.7px;">32</div>
<div class="cell g" style="left:552.0px;top:65.7px;">8</div>
<div class="cell g" style="left:583.5px;top:65.7px;">8</div>
<div class="cell g" style="left:615.0px;top:65.7px;">8</div>
<div class="cell g" style="left:646.6px;top:65.7px;">8</div>
<div class="cell g" style="left:741.2px;top:65.7px;">8</div>
<div class="cell g" style="left:772.7px;top:65.7px;">8</div>
<div class="cell g" style="left:804.2px;top:65.7px;">8</div>
<div class="cell g" style="left:835.8px;top:65.7px;">8</div>
<div class="cell g" style="left:867.3px;top:65.7px;">8</div>
<div class="cell g" style="left:961.9px;top:65.7px;">8</div>
<div class="cell r" style="left:110.5px;top:323.1px;">24</div>
<div class="cell r" style="left:142.0px;top:323.1px;">24</div>
<div class="cell r" style="left:173.5px;top:323.1px;">24</div>
<div class="cell r" style="left:205.1px;top:323.1px;">24</div>
<div class="cell r" style="left:299.7px;top:323.1px;">24</div>
<div class="cell r" style="left:331.2px;top:323.1px;">24</div>
<div class="cell r" style="left:362.8px;top:323.1px;">24</div>
<div class="cell r" style="left:394.3px;top:323.1px;">24</div>
<div class="cell r" style="left:425.8px;top:323.1px;">24</div>
<div class="cell r" style="left:520.4px;top:323.1px;">12</div>
<div class="cell r" style="left:552.0px;top:323.1px;">12</div>
<div class="b" style="left:110.3px;top:111.8px;width:441.4px;height:18.0px;background:#b3e2fb;border:1px solid #7fbdec;"></div>
<div class="b" style="left:111.3px;top:117.8px;width:247.2px;height:5.8px;background:repeating-linear-gradient(120.6deg,#5f90b8 0,#5f90b8 1.25px,rgba(170,218,246,0.6) 1.3px,rgba(170,218,246,0.6) 3.36px);"></div>
<div class="b" style="left:110.3px;top:154.9px;width:441.4px;height:18.0px;background:#b3e2fb;border:1px solid #7fbdec;"></div>
<div class="b" style="left:552.1px;top:197.9px;width:440.4px;height:18.0px;background:#b3e2fb;border:1px solid #7fbdec;"></div>
<div class="b" style="left:553.1px;top:203.9px;width:86.4px;height:5.8px;background:repeating-linear-gradient(120.6deg,#5f90b8 0,#5f90b8 1.25px,rgba(170,218,246,0.6) 1.3px,rgba(170,218,246,0.6) 3.36px);"></div>
<div class="b" style="left:110.3px;top:240.9px;width:441.4px;height:18.0px;background:#b3e2fb;border:1px solid #7fbdec;"></div>
<div class="b" style="left:111.3px;top:246.9px;width:346.2px;height:5.8px;background:repeating-linear-gradient(120.6deg,#5f90b8 0,#5f90b8 1.25px,rgba(170,218,246,0.6) 1.3px,rgba(170,218,246,0.6) 3.36px);"></div>
<div class="b" style="left:110.3px;top:284.0px;width:441.4px;height:18.0px;background:#b3e2fb;border:1px solid #7fbdec;"></div>
<div class="b" style="left:110.3px;top:370.0px;width:472.8px;height:18.0px;background:#b3e2fb;border:1px solid #7fbdec;"></div>
<div class="b" style="left:111.3px;top:376.0px;width:141.2px;height:5.8px;background:repeating-linear-gradient(120.6deg,#5f90b8 0,#5f90b8 1.25px,rgba(170,218,246,0.6) 1.3px,rgba(170,218,246,0.6) 3.36px);"></div>
<div class="b" style="left:110.3px;top:413.1px;width:472.8px;height:18.0px;background:#b3e2fb;border:1px solid #7fbdec;"></div>
<div class="b" style="left:111.3px;top:419.1px;width:117.2px;height:5.8px;background:repeating-linear-gradient(120.6deg,#5f90b8 0,#5f90b8 1.25px,rgba(170,218,246,0.6) 1.3px,rgba(170,218,246,0.6) 3.36px);"></div>
<div class="b" style="left:110.3px;top:456.1px;width:472.8px;height:18.0px;background:#b3e2fb;border:1px solid #7fbdec;"></div>
<div class="b" style="left:111.3px;top:462.1px;width:176.2px;height:5.8px;background:repeating-linear-gradient(120.6deg,#5f90b8 0,#5f90b8 1.25px,rgba(170,218,246,0.6) 1.3px,rgba(170,218,246,0.6) 3.36px);"></div>
<svg class="b" style="left:0;top:0;" width="1066.5" height="485" viewBox="843.5 64.5 1066.5 485"><path d="M953.2 88.3l3.5 3.5l-3.5 3.5l-3.5-3.5z" fill="#5bb04c" stroke="#5bb04c" stroke-width="1.2" stroke-linejoin="round"/><path d="M1188.1 88.3l3.5 3.5l-3.5 3.5l-3.5-3.5z" fill="#f59a23" stroke="#f59a23" stroke-width="1.2" stroke-linejoin="round"/><g stroke="#8b8d9e" stroke-width="1.5" fill="none"><path d="M1395.4 185.2q2.8 0 2.8 4V257"/><path d="M1395.4 228.5h2.8"/><path d="M1398.2 280V552"/><path d="M1395.4 314.5h2.8M1395.4 357.5h2.8"/><path d="M1836.3 271.5q3.3 0 3.3 4V552"/></g><path d="M1393.6 256.3h9.2l-4.6 6.2z" fill="#7b7f93"/></svg>
</div>
<div class="b" style="left:1873.5px;top:64.5px;width:36.5px;height:54.3px;background:#fefefe;"></div>
<svg class="b" style="left:1885.0px;top:82.0px;" width="22" height="20" viewBox="0 0 22 20"><circle cx="2.6" cy="2.7" r="1.6" fill="#42526e"/><rect x="6.4" y="1.7" width="13" height="2" fill="#42526e"/><circle cx="2.6" cy="9.55" r="1.6" fill="#42526e"/><rect x="6.4" y="8.549999999999999" width="13" height="2" fill="#42526e"/><circle cx="2.6" cy="16.4" r="1.6" fill="#42526e"/><rect x="6.4" y="15.399999999999999" width="13" height="2" fill="#42526e"/></svg>
<div class="t " style="left:13.6px;top:583.6px;font-size:23.5px;line-height:23.5px;color:#2f3c5c;font-weight:400;transform:scaleX(0.9291);-webkit-text-stroke:0;">Resources</div>
<div class="b" style="left:698.3px;top:572.0px;width:49.3px;height:41.0px;background:#f4f5f7;border-radius:4px;"></div>
<svg class="b" style="left:713.0px;top:583.4px;" width="20" height="20" viewBox="0 0 20 20"><path d="M3.2 2.6h13.4l-4.9 6.8v7.2l-3.6-2.1v-5.1z" stroke="#42526e" stroke-width="1.8" fill="none" stroke-linejoin="round"/></svg>
<div class="b" style="left:758.5px;top:572.0px;width:48.7px;height:41.0px;background:#f4f5f7;border-radius:4px;"></div>
<svg class="b" style="left:771.0px;top:582.0px;" width="24" height="22" viewBox="0 0 24 22"><circle cx="8.4" cy="6.6" r="3.6" stroke="#5a6781" stroke-width="1.5" fill="none"/><path d="M1.6 17.6c0-4 3-6 6.8-6c1.6 0 3 .4 4 1M1.6 17.6h9.4" stroke="#5a6781" stroke-width="1.5" fill="none" stroke-linecap="round"/><path d="M15.58 5.50L17.62 5.50L17.77 6.88L18.78 7.36L19.95 6.62L21.22 8.22L20.24 9.20L20.49 10.29L21.80 10.74L21.34 12.73L19.97 12.57L19.27 13.44L19.73 14.75L17.89 15.64L17.16 14.46L16.04 14.46L15.31 15.64L13.47 14.75L13.93 13.44L13.23 12.57L11.86 12.73L11.40 10.74L12.71 10.29L12.96 9.20L11.98 8.22L13.25 6.62L14.42 7.36L15.43 6.88z" stroke="#5a6781" stroke-width="1.3" fill="none" stroke-linejoin="round"/><circle cx="16.6" cy="10.6" r="1.2" stroke="#5a6781" stroke-width="1.3" fill="none"/></svg>
<div class="t " style="left:109.7px;top:622.4px;font-size:15.4px;line-height:15.4px;color:#7a8699;font-weight:700;transform:scaleX(0.9833);">Resource name</div>
<div class="b" style="left:0.0px;top:645.0px;width:834.2px;height:1.0px;background:#e4e6ed;"></div>
<div class="b" style="left:807.5px;top:646.0px;width:26.8px;height:306.0px;background:#f1f1f4;"></div>
<svg class="b" style="left:814.0px;top:656.5px;" width="13" height="8" viewBox="0 0 13 8"><path d="M0.5 7.4L6.5 0.8L12.5 7.4z" fill="#a9abb5"/></svg>
<div class="b" style="left:0.0px;top:646.0px;width:807.5px;height:42.4px;background:#e9f0fb;"></div>
<div class="b" style="left:27.2px;top:656.7px;width:18.8px;height:18.8px;background:#fdfdfe;border:1.3px solid #dcdfe6;border-radius:4px;"></div>
<svg class="b" style="left:802.4px;top:662.0px;" width="6" height="16" viewBox="0 0 6 16"><circle cx="3" cy="2.5" r="1.3" fill="#5d6578"/><circle cx="3" cy="7.5" r="1.3" fill="#5d6578"/><circle cx="3" cy="12.5" r="1.3" fill="#5d6578"/></svg>
<div class="av" style="left:157.9px;top:654.6px;background:#1558d6;color:#fff;">AM</div>
<div class="t " style="left:184.4px;top:661.3px;font-size:17.5px;line-height:17.5px;color:#3b6fb5;font-weight:400;transform:scaleX(1.0755);">Amy Mitchell</div>
<div class="b" style="left:0.0px;top:688.0px;width:807.5px;height:1.0px;background:#ebecf0;"></div>
<div class="av" style="left:157.9px;top:697.4px;background:#fb9823;color:#85531a;">BP</div>
<div class="t " style="left:184.4px;top:704.1px;font-size:17.5px;line-height:17.5px;color:#3b6fb5;font-weight:400;transform:scaleX(1.0047);">Beverly Perkins</div>
<div class="b" style="left:0.0px;top:731.0px;width:807.5px;height:1.0px;background:#ebecf0;"></div>
<div class="av" style="left:157.9px;top:740.4px;background:#fb9823;color:#85531a;">CE</div>
<div class="t " style="left:184.4px;top:747.1px;font-size:17.5px;line-height:17.5px;color:#3b6fb5;font-weight:400;transform:scaleX(1.0050);">Catherine Evans</div>
<div class="b" style="left:0.0px;top:774.0px;width:807.5px;height:1.0px;background:#ebecf0;"></div>
<div class="av" style="left:157.9px;top:783.0px;background:#17a2c4;color:#0b4c66;">DC</div>
<div class="t " style="left:184.4px;top:789.7px;font-size:17.5px;line-height:17.5px;color:#3b6fb5;font-weight:400;transform:scaleX(1.0368);">David Carmichael</div>
<div class="b" style="left:0.0px;top:816.0px;width:807.5px;height:1.0px;background:#ebecf0;"></div>
<div class="av" style="left:157.9px;top:825.9px;background:#e2431e;color:#fff;">JS</div>
<div class="t " style="left:184.4px;top:832.6px;font-size:17.5px;line-height:17.5px;color:#3b6fb5;font-weight:400;transform:scaleX(1.0307);">Josephine Strong</div>
<div class="b" style="left:0.0px;top:860.0px;width:807.5px;height:1.0px;background:#ebecf0;"></div>
<div class="av" style="left:157.9px;top:868.9px;background:#4a3f93;color:#fff;">LP</div>
<div class="t " style="left:184.4px;top:875.6px;font-size:17.5px;line-height:17.5px;color:#3b6fb5;font-weight:400;">Lars Petersen</div>
<div class="b" style="left:0.0px;top:902.0px;width:807.5px;height:1.0px;background:#ebecf0;"></div>
<div class="av" style="left:157.9px;top:911.6px;background:#17875a;color:#fff;">SG</div>
<div class="t " style="left:184.4px;top:918.3px;font-size:17.5px;line-height:17.5px;color:#3b6fb5;font-weight:400;transform:scaleX(1.0405);">Saul Goodman</div>
<div class="b" style="left:0.0px;top:945.0px;width:807.5px;height:1.0px;background:#ebecf0;"></div>
<svg class="b" style="left:340px;top:660px;" width="24" height="30" viewBox="340 660 24 30"><path d="M343.4 662.7V684.5L348.5 680.3L351.9 687.5L355.9 685.9L352.7 679.1L359.6 678.9Z" fill="#fff" stroke="#27334f" stroke-width="1.1" stroke-linejoin="round"/></svg>
<div class="b" style="left:842.8px;top:558.0px;width:1067.2px;height:394.0px;background:#fefefe;"></div>
<div class="t " style="left:870.6px;top:583.2px;font-size:23.5px;line-height:23.5px;color:#2f3c5c;font-weight:400;transform:scaleX(0.9469);-webkit-text-stroke:0;">Resource Usage</div>
<div class="b" style="left:1785.0px;top:572.0px;width:103.0px;height:41.0px;background:#f4f5f7;border-radius:4px;"></div>
<div class="t " style="left:1798.7px;top:585.7px;font-size:17.5px;line-height:17.5px;color:#344563;font-weight:400;transform:scaleX(1.1092);">Hours</div>
<svg class="b" style="left:1860.8px;top:589.2px;" width="11.4" height="8.7" viewBox="0 0 11.4 8.7"><path d="M2 2l3.7 3.7l3.7 -3.7" stroke="#42526e" stroke-width="2.5" fill="none" stroke-linecap="round" stroke-linejoin="round"/></svg>
<div class="clip" style="left:843.5px;top:646.1px;width:1066.5px;height:305.9px;">
<div class="b" style="left:14.9px;top:0.0px;width:31.5px;height:299.2px;background:#f8f9fc;"></div>
<div class="b" style="left:46.4px;top:0.0px;width:31.5px;height:299.2px;background:#f8f9fc;"></div>
<div class="b" style="left:45.8px;top:0.0px;width:1.3px;height:299.2px;background:#eff0f4;"></div>
<div class="b" style="left:235.6px;top:0.0px;width:31.5px;height:299.2px;background:#f8f9fc;"></div>
<div class="b" style="left:267.1px;top:0.0px;width:31.5px;height:299.2px;background:#f8f9fc;"></div>
<div class="b" style="left:266.5px;top:0.0px;width:1.3px;height:299.2px;background:#eff0f4;"></div>
<div class="b" style="left:456.4px;top:0.0px;width:31.5px;height:299.2px;background:#f8f9fc;"></div>
<div class="b" style="left:487.9px;top:0.0px;width:31.5px;height:299.2px;background:#f8f9fc;"></div>
<div class="b" style="left:487.3px;top:0.0px;width:1.3px;height:299.2px;background:#eff0f4;"></div>
<div class="b" style="left:677.1px;top:0.0px;width:31.5px;height:299.2px;background:#f8f9fc;"></div>
<div class="b" style="left:708.6px;top:0.0px;width:31.5px;height:299.2px;background:#f8f9fc;"></div>
<div class="b" style="left:708.0px;top:0.0px;width:1.3px;height:299.2px;background:#eff0f4;"></div>
<div class="b" style="left:897.8px;top:0.0px;width:31.5px;height:299.2px;background:#f8f9fc;"></div>
<div class="b" style="left:929.4px;top:0.0px;width:31.5px;height:299.2px;background:#f8f9fc;"></div>
<div class="b" style="left:928.8px;top:0.0px;width:1.3px;height:299.2px;background:#eff0f4;"></div>
<div class="b" style="left:0.0px;top:0.0px;width:1066.5px;height:42.7px;background:rgba(206,222,248,0.45);"></div>
<div class="b" style="left:0.0px;top:41.6px;width:1066.5px;height:1.6px;background:#f0f0f4;"></div>
<div class="b" style="left:0.0px;top:84.9px;width:1066.5px;height:1.6px;background:#f0f0f4;"></div>
<div class="b" style="left:0.0px;top:127.5px;width:1066.5px;height:1.6px;background:#f0f0f4;"></div>
<div class="b" style="left:0.0px;top:170.1px;width:1066.5px;height:1.6px;background:#f0f0f4;"></div>
<div class="b" style="left:0.0px;top:213.4px;width:1066.5px;height:1.6px;background:#f0f0f4;"></div>
<div class="b" style="left:0.0px;top:256.1px;width:1066.5px;height:1.6px;background:#f0f0f4;"></div>
<div class="b" style="left:0.0px;top:298.7px;width:1066.5px;height:1.6px;background:#f0f0f4;"></div>
<div class="b" style="left:108.4px;top:0.0px;width:2.0px;height:299.2px;background:#7fbf73;"></div>
<div class="b" style="left:343.6px;top:0.0px;width:2.0px;height:299.2px;background:#f6b56c;"></div>
<div class="cell rb" style="left:110.5px;top:8.1px;">40</div>
<div class="cell rb" style="left:142.0px;top:8.1px;">40</div>
<div class="cell rb" style="left:173.5px;top:8.1px;">40</div>
<div class="cell rb" style="left:205.1px;top:8.1px;">40</div>
<div class="cell rb" style="left:299.7px;top:8.1px;">38</div>
<div class="cell rb" style="left:331.2px;top:8.1px;">16</div>
<div class="cell rb" style="left:362.8px;top:8.1px;">16</div>
<div class="cell rb" style="left:394.3px;top:8.1px;">16</div>
<div class="cell rb" style="left:425.8px;top:8.1px;">16</div>
<div class="cell rb" style="left:520.4px;top:8.1px;">16</div>
<div class="cell gb" style="left:552.0px;top:8.1px;">8</div>
<div class="cell gb" style="left:583.5px;top:8.1px;">8</div>
<div class="cell gb" style="left:615.0px;top:8.1px;">8</div>
<div class="cell gb" style="left:646.6px;top:8.1px;">8</div>
<div class="cell gb" style="left:741.2px;top:8.1px;">8</div>
<div class="cell gb" style="left:772.7px;top:8.1px;">8</div>
<div class="cell gb" style="left:804.2px;top:8.1px;">8</div>
<div class="cell gb" style="left:835.8px;top:8.1px;">8</div>
<div class="cell gb" style="left:867.3px;top:8.1px;">8</div>
<div class="cell gb" style="left:961.9px;top:8.1px;">8</div>
<div class="cell gb" style="left:993.4px;top:8.1px;">2</div>
<div class="cell r" style="left:110.5px;top:51.0px;">32</div>
<div class="cell r" style="left:142.0px;top:51.0px;">32</div>
<div class="cell r" style="left:173.5px;top:51.0px;">32</div>
<div class="cell r" style="left:205.1px;top:51.0px;">32</div>
<div class="cell r" style="left:299.7px;top:51.0px;">32</div>
<div class="cell r" style="left:331.2px;top:51.0px;">32</div>
<div class="cell r" style="left:362.8px;top:51.0px;">32</div>
<div class="cell r" style="left:394.3px;top:51.0px;">32</div>
<div class="cell r" style="left:425.8px;top:51.0px;">32</div>
<div class="cell r" style="left:520.4px;top:51.0px;">32</div>
<div class="cell g" style="left:552.0px;top:51.0px;">8</div>
<div class="cell g" style="left:583.5px;top:51.0px;">8</div>
<div class="cell g" style="left:615.0px;top:51.0px;">8</div>
<div class="cell g" style="left:646.6px;top:51.0px;">8</div>
<div class="cell g" style="left:741.2px;top:51.0px;">8</div>
<div class="cell g" style="left:772.7px;top:51.0px;">8</div>
<div class="cell g" style="left:804.2px;top:51.0px;">8</div>
<div class="cell g" style="left:835.8px;top:51.0px;">8</div>
<div class="cell g" style="left:867.3px;top:51.0px;">8</div>
<div class="cell g" style="left:961.9px;top:51.0px;">8</div>
<div class="cell r" style="left:110.5px;top:93.9px;">24</div>
<div class="cell r" style="left:142.0px;top:93.9px;">24</div>
<div class="cell r" style="left:173.5px;top:93.9px;">24</div>
<div class="cell r" style="left:205.1px;top:93.9px;">24</div>
<div class="cell r" style="left:299.7px;top:93.9px;">24</div>
<div class="cell r" style="left:331.2px;top:93.9px;">24</div>
<div class="cell r" style="left:362.8px;top:93.9px;">24</div>
<div class="cell r" style="left:394.3px;top:93.9px;">24</div>
<div class="cell r" style="left:425.8px;top:93.9px;">24</div>
<div class="cell r" style="left:520.4px;top:93.9px;">12</div>
<div class="cell r" style="left:552.0px;top:93.9px;">12</div>
<div class="cell g" style="left:110.5px;top:136.6px;">8</div>
<div class="cell g" style="left:142.0px;top:136.6px;">8</div>
<div class="cell g" style="left:173.5px;top:136.6px;">8</div>
<div class="cell g" style="left:205.1px;top:136.6px;">8</div>
<div class="cell g" style="left:299.7px;top:136.6px;">8</div>
<div class="cell g" style="left:331.2px;top:136.6px;">8</div>
<div class="cell g" style="left:362.8px;top:136.6px;">8</div>
<div class="cell g" style="left:394.3px;top:136.6px;">8</div>
<div class="cell g" style="left:425.8px;top:136.6px;">8</div>
<div class="cell g" style="left:520.4px;top:136.6px;">8</div>
<div class="cell g" style="left:552.0px;top:136.6px;">8</div>
<div class="cell g" style="left:583.5px;top:136.6px;">8</div>
<div class="cell g" style="left:615.0px;top:136.6px;">8</div>
<div class="cell g" style="left:646.6px;top:136.6px;">8</div>
<div class="cell g" style="left:741.2px;top:136.6px;">4</div>
<div class="cell g" style="left:772.7px;top:136.6px;">4</div>
<div class="cell r" style="left:110.5px;top:179.5px;">48</div>
<div class="cell r" style="left:142.0px;top:179.5px;">48</div>
<div class="cell r" style="left:173.5px;top:179.5px;">48</div>
<div class="cell r" style="left:205.1px;top:179.5px;">48</div>
<div class="cell r" style="left:299.7px;top:179.5px;">44</div>
<div class="cell r" style="left:331.2px;top:179.5px;">23</div>
<div class="cell r" style="left:362.8px;top:179.5px;">16</div>
<div class="cell r" style="left:394.3px;top:179.5px;">16</div>
<div class="cell r" style="left:425.8px;top:179.5px;">16</div>
<div class="cell r" style="left:520.4px;top:179.5px;">16</div>
<div class="cell r" style="left:110.5px;top:222.5px;">48</div>
<div class="cell r" style="left:142.0px;top:222.5px;">48</div>
<div class="cell r" style="left:173.5px;top:222.5px;">48</div>
<div class="cell r" style="left:205.1px;top:222.5px;">41</div>
<div class="cell r" style="left:299.7px;top:222.5px;">40</div>
<div class="cell r" style="left:331.2px;top:222.5px;">31</div>
<div class="cell r" style="left:362.8px;top:222.5px;">16</div>
<div class="cell r" style="left:394.3px;top:222.5px;">16</div>
<div class="cell r" style="left:425.8px;top:222.5px;">16</div>
<div class="cell r" style="left:520.4px;top:222.5px;">16</div>
<div class="cell g" style="left:552.0px;top:222.5px;">8</div>
<div class="cell g" style="left:583.5px;top:222.5px;">8</div>
<div class="cell g" style="left:615.0px;top:222.5px;">8</div>
<div class="cell g" style="left:646.6px;top:222.5px;">8</div>
<div class="cell g" style="left:741.2px;top:222.5px;">8</div>
<div class="cell g" style="left:772.7px;top:222.5px;">8</div>
<div class="cell g" style="left:804.2px;top:222.5px;">8</div>
<div class="cell g" style="left:835.8px;top:222.5px;">8</div>
<div class="cell g" style="left:867.3px;top:222.5px;">8</div>
<div class="cell g" style="left:961.9px;top:222.5px;">8</div>
<div class="cell r" style="left:110.5px;top:265.1px;">24</div>
<div class="cell r" style="left:142.0px;top:265.1px;">24</div>
<div class="cell r" style="left:173.5px;top:265.1px;">24</div>
<div class="cell r" style="left:205.1px;top:265.1px;">26</div>
<div class="cell r" style="left:299.7px;top:265.1px;">32</div>
<div class="cell r" style="left:331.2px;top:265.1px;">32</div>
<div class="cell r" style="left:362.8px;top:265.1px;">26</div>
<div class="cell r" style="left:394.3px;top:265.1px;">24</div>
<div class="cell r" style="left:425.8px;top:265.1px;">24</div>
<div class="cell r" style="left:520.4px;top:265.1px;">24</div>
</div>
</div></body></html>
